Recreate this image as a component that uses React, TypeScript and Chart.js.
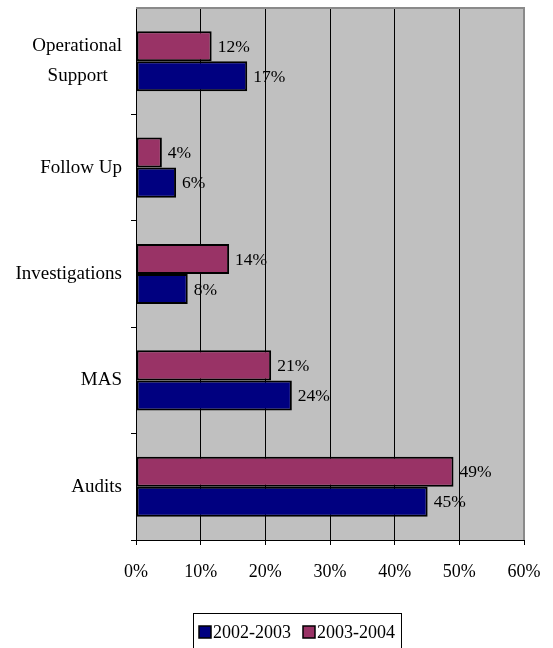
import React, { useEffect, useRef } from "react";
import { Chart, registerables } from "chart.js";
Chart.register(...registerables);

const categories: (string | string[])[] = [["Operational", "Support   "], "Follow Up", "Investigations", "MAS", "Audits"];
const seriesNames = ["2002-2003", "2003-2004"];
const values2002 = [17.2, 6.2, 8.0, 24.1, 45.1];
const values2003 = [11.7, 4.0, 14.4, 20.9, 49.1];
const xMin = 0;
const xMax = 60;
const xStep = 10;

const FONT = "'Liberation Serif', 'Times New Roman', serif";
const NAVY = "#000080";
const MAROON = "#993366";

const backgroundPlugin = {
  id: "bgPlot",
  beforeDraw(chart: any) {
    const { ctx, chartArea: a } = chart;
    ctx.save();
    ctx.fillStyle = "#ffffff";
    ctx.fillRect(0, 0, chart.width, chart.height);
    ctx.fillStyle = "#C0C0C0";
    ctx.fillRect(a.left, a.top, a.right - a.left, a.bottom - a.top);
    ctx.restore();
  },
  beforeDatasetsDraw(chart: any) {
    const { ctx, chartArea: a } = chart;
    ctx.save();
    ctx.strokeStyle = "#8a8a8a";
    ctx.lineWidth = 2;
    ctx.beginPath();
    ctx.moveTo(a.left, a.top);
    ctx.lineTo(a.right, a.top);
    ctx.lineTo(a.right, a.bottom);
    ctx.stroke();
    ctx.restore();
  },
};

const valueLabelPlugin = {
  id: "valueLabels",
  afterDatasetsDraw(chart: any) {
    const { ctx } = chart;
    ctx.save();
    ctx.font = `17.5px ${FONT}`;
    ctx.fillStyle = "#000";
    ctx.textAlign = "left";
    ctx.textBaseline = "middle";
    chart.data.datasets.forEach((ds: any, di: number) => {
      const meta = chart.getDatasetMeta(di);
      meta.data.forEach((el: any, i: number) => {
        ctx.fillText(`${Math.round(ds.data[i])}%`, el.x + 6, el.y + 1);
      });
    });
    ctx.restore();
  },
};

const boxLegendPlugin = {
  id: "boxLegend",
  afterDraw(chart: any) {
    const { ctx } = chart;
    const ds = chart.data.datasets.slice().reverse();
    ctx.save();
    ctx.font = `18px ${FONT}`;
    const left = 193;
    const top = 613;
    const sq = 12;
    let x = left + 6;
    const items = ds.map((d: any) => {
      const w = ctx.measureText(d.label).width;
      const it = { x, d, w };
      x += sq + 2 + w + 12;
      return it;
    });
    const right = x - 12 + 6;
    ctx.strokeStyle = "#000";
    ctx.lineWidth = 1;
    ctx.strokeRect(left + 0.5, top + 0.5, right - left, 40);
    const cy = 632;
    items.forEach((it: any) => {
      ctx.fillStyle = it.d.backgroundColor;
      ctx.fillRect(it.x, cy - sq / 2, sq, sq);
      ctx.lineWidth = 1.5;
      ctx.strokeStyle = "#000";
      ctx.strokeRect(it.x, cy - sq / 2, sq, sq);
      ctx.fillStyle = "#000";
      ctx.textAlign = "left";
      ctx.textBaseline = "middle";
      ctx.fillText(it.d.label, it.x + sq + 2, cy + 1);
    });
    ctx.restore();
  },
};

export default function App() {
  const ref = useRef<HTMLCanvasElement>(null);
  useEffect(() => {
    if (!ref.current) return;
    const chart = new Chart(ref.current, {
      type: "bar",
      data: {
        labels: categories,
        datasets: [
          {
            label: seriesNames[1],
            data: values2003,
            backgroundColor: MAROON,
            borderColor: "#000",
            borderWidth: 2,
            borderSkipped: false,
            categoryPercentage: 0.565,
            barPercentage: 1.0,
          },
          {
            label: seriesNames[0],
            data: values2002,
            backgroundColor: NAVY,
            borderColor: "#000",
            borderWidth: 2,
            borderSkipped: false,
            categoryPercentage: 0.565,
            barPercentage: 1.0,
          },
        ],
      },
      options: {
        indexAxis: "y",
        responsive: false,
        animation: false,
        layout: { padding: { left: 0, right: 29, top: 8, bottom: 0 } },
        plugins: {
          legend: { display: false },
          tooltip: { enabled: false },
        },
        scales: {
          x: {
            min: xMin,
            max: xMax,
            ticks: {
              stepSize: xStep,
              callback: (v: any) => `${v}%`,
              color: "#000",
              font: { family: FONT, size: 18 },
              padding: 16,
            },
            grid: { color: "#000", lineWidth: 1, tickLength: 5, drawOnChartArea: true },
            border: { display: true, color: "#000", width: 1 },
            afterFit: (s: any) => {
              s.height = 108;
              s.paddingLeft = 0;
              s.paddingRight = 0;
            },
          },
          y: {
            ticks: {
              color: "#000",
              font: { family: FONT, size: 19, lineHeight: 1.58 },
              padding: 9,
            },
            grid: {
              color: (c: any) => (c.index === 0 ? "rgba(0,0,0,0)" : "#000"),
              lineWidth: 1,
              tickLength: 5,
              drawOnChartArea: false,
              offset: true,
            },
            border: { display: true, color: "#000", width: 1 },
            afterFit: (s: any) => {
              s.width = 136;
              s.paddingTop = 0;
              s.paddingBottom = 0;
            },
          },
        },
      },
      plugins: [backgroundPlugin, valueLabelPlugin, boxLegendPlugin],
    });
    return () => chart.destroy();
  }, []);
  return (
    <div style={{ position: "absolute", left: 0, top: 0, width: 553, height: 648 }}>
      <canvas ref={ref} width={553} height={648} style={{ display: "block" }} />
    </div>
  );
}
